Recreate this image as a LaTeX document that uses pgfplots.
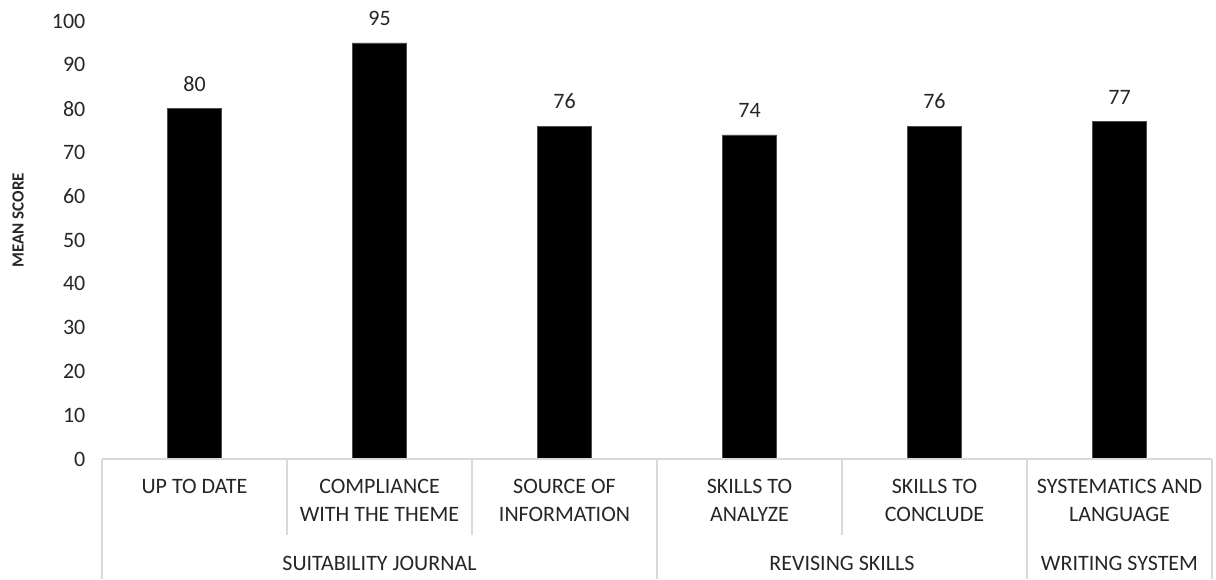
\documentclass[border=0pt]{standalone}
\usepackage{fontspec}
\setmainfont{Carlito}
\usepackage{pgfplots}
\pgfplotsset{compat=1.18}
\definecolor{sepgray}{HTML}{D9D9D9}
\begin{document}
\begin{tikzpicture}
\path[use as bounding box] (-51pt,-60pt) rectangle (557pt,229.5pt);
\begin{axis}[
  at={(0,0)}, anchor=south west,
  scale only axis, width=555pt, height=219pt,
  xmin=0, xmax=6, ymin=0, ymax=100,
  axis line style={draw=none},
  major tick length=0pt,
  ytick={0,10,...,100},
  xtick={0.5,1.5,2.5,3.5,4.5,5.5},
  xticklabels={UP TO DATE,{COMPLIANCE\\WITH THE THEME},{SOURCE OF\\INFORMATION},{SKILLS TO\\ANALYZE},{SKILLS TO\\CONCLUDE},{SYSTEMATICS AND\\LANGUAGE}},
  xticklabel style={align=center, font=\fontsize{11}{14}\selectfont, anchor=north, yshift=-6.5pt, text=black!85},
  yticklabel style={font=\fontsize{11}{13}\selectfont, anchor=east, xshift=-4.8pt, text=black!85},
  /pgf/number format/assume math mode=true,
  ybar, bar width=27pt,
  nodes near coords,
  every node near coord/.append style={font=\fontsize{11}{13}\selectfont, anchor=south, yshift=5pt, text=black!85},
  clip=false,
]
\addplot[fill=black, draw=black!70, line width=0.3pt] coordinates {(0.5,80) (1.5,95) (2.5,76) (3.5,74) (4.5,76) (5.5,77)};
\draw[sepgray, line width=0.6pt] (axis cs:0,0) -- (axis cs:6,0);
\draw[sepgray, line width=0.6pt] (axis cs:0,0) -- ++(0,-60pt);
\draw[sepgray, line width=0.6pt] (axis cs:3,0) -- ++(0,-60pt);
\draw[sepgray, line width=0.6pt] (axis cs:5,0) -- ++(0,-60pt);
\draw[sepgray, line width=0.6pt] (axis cs:6,0) -- ++(0,-60pt);
\draw[sepgray, line width=0.6pt] (axis cs:1,0) -- ++(0,-38pt);
\draw[sepgray, line width=0.6pt] (axis cs:2,0) -- ++(0,-38pt);
\draw[sepgray, line width=0.6pt] (axis cs:4,0) -- ++(0,-38pt);
\node[font=\fontsize{11}{13}\selectfont, text=black!85] at ([yshift=-52pt]axis cs:1.5,0) {SUITABILITY JOURNAL};
\node[font=\fontsize{11}{13}\selectfont, text=black!85] at ([yshift=-52pt]axis cs:4,0) {REVISING SKILLS};
\node[font=\fontsize{11}{13}\selectfont, text=black!85] at ([yshift=-52pt]axis cs:5.5,0) {WRITING SYSTEM};
\node[rotate=90, font=\bfseries\fontsize{8.5}{10}\selectfont, text=black!85] at ([xshift=-42pt]rel axis cs:0,0.545) {MEAN SCORE};
\end{axis}
\end{tikzpicture}
\end{document}
